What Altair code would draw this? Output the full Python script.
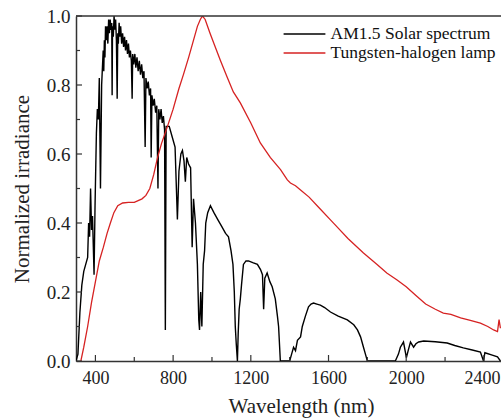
import altair as alt
import pandas as pd

# ---- data ----
solar_wl = [300, 310, 320, 330, 340, 350, 360, 365, 370, 375, 380, 385, 393, 398, 405, 410, 415, 420, 426, 432,
            440, 443, 446, 449, 452, 456, 460, 464, 468, 472, 476, 480, 484, 486, 488, 492, 496, 500, 504, 508,
            512, 515, 518, 522, 526, 530, 535, 540, 545, 550, 555, 560, 565, 570, 575, 580, 585, 589, 592, 597,
            603, 608, 614, 620, 626, 632, 638, 644, 650, 656, 660, 666, 672, 678, 684, 687, 691, 697, 703, 710,
            716, 722, 726, 732, 738, 744, 750, 756, 760, 764, 780, 795,
            810, 822, 830, 840, 848, 856, 863, 870, 880, 890, 898, 905, 915, 925, 932, 936, 942, 948, 955, 962,
            968, 978, 992, 1010, 1030, 1050, 1070, 1085, 1098, 1108, 1115, 1120, 1125, 1131, 1135, 1140, 1146,
            1152, 1162, 1175, 1188, 1210, 1234, 1250, 1260, 1266, 1272, 1284, 1298, 1310, 1326, 1337, 1343, 1352,
            1400, 1410, 1420, 1430, 1440, 1456, 1465, 1481, 1497, 1510, 1523, 1540, 1558, 1580, 1610, 1650, 1697,
            1730, 1749, 1765, 1780, 1790, 1800, 1944, 1960, 1970, 1986, 2001, 2010, 2022, 2038, 2050, 2064, 2090,
            2150, 2211, 2250, 2294, 2340, 2382, 2398, 2405, 2443, 2470, 2485]
solar_val = [0.0, 0.02, 0.14, 0.22, 0.26, 0.28, 0.30, 0.40, 0.36, 0.50, 0.38, 0.42, 0.25, 0.45, 0.66, 0.73, 0.70, 0.82, 0.50, 0.80,
             0.90, 0.84, 0.93, 0.88, 0.97, 0.93, 0.97, 0.92, 0.99, 0.95, 0.99, 0.96, 0.98, 0.77, 0.97, 0.94, 1.0, 0.96, 0.99, 0.93,
             0.76, 0.95, 0.92, 0.98, 0.94, 0.97, 0.92, 0.95, 0.91, 0.94, 0.90, 0.93, 0.89, 0.92, 0.88, 0.90, 0.87, 0.76, 0.89, 0.86,
             0.89, 0.85, 0.88, 0.84, 0.87, 0.83, 0.86, 0.82, 0.84, 0.62, 0.82, 0.79, 0.81, 0.77, 0.79, 0.59, 0.77, 0.74, 0.76, 0.72,
             0.74, 0.50, 0.73, 0.70, 0.73, 0.69, 0.71, 0.67, 0.09, 0.68, 0.68, 0.65,
             0.62, 0.41, 0.55, 0.60, 0.61, 0.58, 0.52, 0.59, 0.57, 0.56, 0.33, 0.47, 0.40, 0.28, 0.12, 0.09, 0.20, 0.10, 0.28, 0.32,
             0.40, 0.43, 0.45, 0.43, 0.41, 0.39, 0.37, 0.36, 0.32, 0.28, 0.20, 0.10, 0.05, 0.0, 0.08, 0.15, 0.18,
             0.22, 0.28, 0.29, 0.29, 0.285, 0.28, 0.265, 0.25, 0.15, 0.24, 0.255, 0.23, 0.215, 0.18, 0.13, 0.10, 0.0,
             0.0, 0.02, 0.04, 0.03, 0.06, 0.07, 0.10, 0.13, 0.157, 0.165, 0.168, 0.165, 0.162, 0.155, 0.142, 0.13, 0.119,
             0.105, 0.09, 0.07, 0.04, 0.02, 0.0, 0.0, 0.02, 0.04, 0.055, 0.01, 0.03, 0.055, 0.04, 0.05, 0.055, 0.058,
             0.056, 0.052, 0.045, 0.038, 0.032, 0.026, 0.0, 0.024, 0.017, 0.012, 0.0]

lamp_wl = [325, 340, 360, 380, 400, 420, 441, 460, 477, 495, 515, 540, 570, 600, 620, 640, 660, 680, 700, 720,
           740, 771, 800, 830, 853, 880, 900, 925, 940, 951, 965, 990, 1010, 1043, 1080, 1110, 1146, 1200, 1249,
           1300, 1353, 1388, 1404, 1430, 1456, 1500, 1550, 1610, 1650, 1700, 1780, 1850, 1900, 1953, 2000, 2050,
           2100, 2150, 2191, 2230, 2280, 2330, 2382, 2420, 2450, 2470, 2478, 2485]
lamp_val = [0.0, 0.04, 0.10, 0.17, 0.23, 0.29, 0.33, 0.37, 0.40, 0.43, 0.45, 0.458, 0.46, 0.46, 0.465, 0.47, 0.48, 0.50, 0.54, 0.59,
            0.63, 0.68, 0.73, 0.79, 0.83, 0.88, 0.92, 0.97, 0.99, 1.0, 0.99, 0.95, 0.92, 0.872, 0.82, 0.78, 0.748, 0.69, 0.632,
            0.59, 0.555, 0.525, 0.516, 0.508, 0.496, 0.475, 0.445, 0.409, 0.385, 0.355, 0.313, 0.28, 0.255, 0.235, 0.215, 0.19,
            0.165, 0.15, 0.139, 0.135, 0.125, 0.118, 0.110, 0.10, 0.09, 0.085, 0.12, 0.095]

series_names = ["AM1.5 Solar spectrum", "Tungsten-halogen lamp"]
series_colors = ["#000000", "#d62222"]

x_major = [400, 800, 1200, 1600, 2000, 2400]
x_minor = [600, 1000, 1400, 1800, 2200]
y_major = [0.0, 0.2, 0.4, 0.6, 0.8, 1.0]
y_minor = [0.1, 0.3, 0.5, 0.7, 0.9]

X_DOMAIN = [300, 2488]
W, H = 425, 345
FONT = "Liberation Serif"

solar = pd.DataFrame({"wl": solar_wl, "val": solar_val, "series": series_names[0]})
lamp = pd.DataFrame({"wl": lamp_wl, "val": lamp_val, "series": series_names[1]})

xscale = alt.Scale(domain=X_DOMAIN, nice=False, zero=False)
yscale = alt.Scale(domain=[0, 1], nice=False)

xaxis = alt.Axis(values=x_major, format="d", labelPadding=8, labelFontSize=18, labelFont=FONT,
                 labelOffset={"condition": {"test": "datum.value == 2400", "value": -2}, "value": 0},
                 title="Wavelength (nm)", titleFont=FONT, titleFontSize=21, titleFontWeight="normal",
                 titlePadding=8, titleX=225, labelFlush=False)
yaxis = alt.Axis(values=y_major, format=".1f", labelPadding=6, labelFont=FONT,
                 title="Normalized irradiance", titleFont=FONT, titleFontSize=21, titleFontWeight="normal",
                 titlePadding=14)

color = alt.Color("series:N",
                  scale=alt.Scale(domain=series_names, range=series_colors),
                  legend=alt.Legend(orient="none", legendX=218, legendY=7.5, title=None,
                                    symbolType="M-2.2,0H2.2", symbolSize=361, symbolStrokeWidth=1.5,
                                    labelFont=FONT, labelFontSize=17.5, labelColor="#111", labelLimit=400,
                                    rowPadding=0, labelOffset=15.5))

solar_line = alt.Chart(solar).mark_line(strokeWidth=1.4, clip=True).encode(color=color)
lamp_line = alt.Chart(lamp).mark_line(strokeWidth=1.3, clip=True).encode(color=color)

# top frame line at y = 1.0
top = alt.Chart(pd.DataFrame({"val": [1.0]})).mark_rule(color="#333", strokeWidth=1.5).encode(
    x=alt.value(0), x2=alt.value(W))

# inward ticks
yt_major = alt.Chart(pd.DataFrame({"val": y_major})).mark_rule(color="#333", strokeWidth=1.2).encode(
    x=alt.value(0), x2=alt.value(6))
yt_minor = alt.Chart(pd.DataFrame({"val": y_minor})).mark_rule(color="#333", strokeWidth=1.2).encode(
    x=alt.value(0), x2=alt.value(4))
xt_major = alt.Chart(pd.DataFrame({"wl": x_major})).mark_rule(color="#333", strokeWidth=1.2).encode(
    y=alt.value(H), y2=alt.value(H - 6))
xt_minor = alt.Chart(pd.DataFrame({"wl": x_minor})).mark_rule(color="#333", strokeWidth=1.2).encode(
    y=alt.value(H), y2=alt.value(H - 4))

chart = alt.layer(solar_line, lamp_line, top, yt_major, yt_minor, xt_major, xt_minor).encode(
    x=alt.X("wl:Q", scale=xscale, axis=xaxis),
    y=alt.Y("val:Q", scale=yscale, axis=yaxis),
).properties(
    width=W, height=H,
    autosize=alt.AutoSizeParams(type="none"),
    padding={"left": 76, "top": 16, "right": 0, "bottom": 58},
    background="white",
).configure_view(stroke=None).configure_axis(
    ticks=False, grid=False, domain=True, domainColor="#333", domainWidth=1.5,
    labelFont=FONT, labelFontSize=19, labelColor="#222",
    titleFont=FONT, titleFontSize=21, titleFontWeight="normal", titleColor="#222",
)

chart.save("out.html", embed_options={"renderer": "svg", "actions": False})
